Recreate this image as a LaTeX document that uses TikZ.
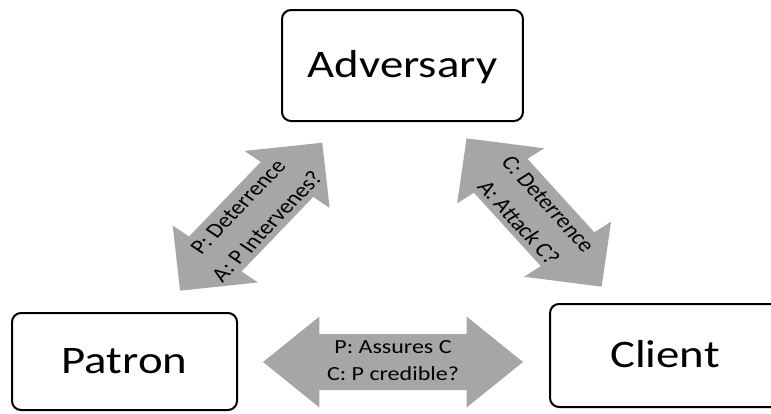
\documentclass[tikz,border=0pt]{standalone}
\usepackage{fontspec}
\setmainfont{Carlito}
\definecolor{arrowgray}{RGB}{166,166,166}
\newcommand\fatarrow[3]{% center, angle, half length
  \begin{scope}[shift={#1}, rotate=#2]
    \fill[arrowgray] (-#3,0) -- ++(47,45.5) -- ++(0,-17.5) -- (#3-47,28) -- ++(0,17.5)
      -- (#3,0) -- ++(-47,-45.5) -- ++(0,17.5) -- (-#3+47,-28) -- ++(0,-17.5) -- cycle;
  \end{scope}}
\begin{document}
\begin{tikzpicture}[x=1pt,y=1pt,xscale=1.2,
  every node/.style={transform shape},
  box/.style={draw=black, line width=2pt, rounded corners=9pt, fill=white,
    font=\fontsize{39}{47}\selectfont, text height=24.6pt, text depth=0pt},
  lbl/.style={align=center, inner sep=0pt, font=\fontsize{20}{27}\selectfont},
  dlbl/.style={align=center, inner sep=0pt, font=\fontsize{20.5}{31}\selectfont}]
\useasboundingbox (0,0) rectangle (642.5,-413);
% boxes
\node[box, minimum width=200.8pt, minimum height=111pt] (adv) at (335.4,-65.5) {Adversary};
\node[box, minimum width=187.5pt, minimum height=97pt] (pat) at (103.75,-361.5) {Patron};
\node[box, minimum width=191.7pt, minimum height=103pt] (cli) at (554.2,-355.5) {Client};
% fat double arrows
\fatarrow{(209.3,-216.7)}{51.3}{94.8}
\fatarrow{(445.1,-212.5)}{-52.8}{93.1}
\fatarrow{(327.5,-362)}{0}{108.3}
% arrow labels
\node[dlbl, rotate=51.3] (pa) at (210.5,-216.7) {P: Deterrence\\A: P Intervenes?};
\node[dlbl, rotate=-52.8] (ca) at (444.5,-213.5) {C: Deterrence\\A: Attack C?};
\node[lbl] (pc) at (327.5,-361) {P: Assures C\\C: P credible?};
\end{tikzpicture}
\end{document}
